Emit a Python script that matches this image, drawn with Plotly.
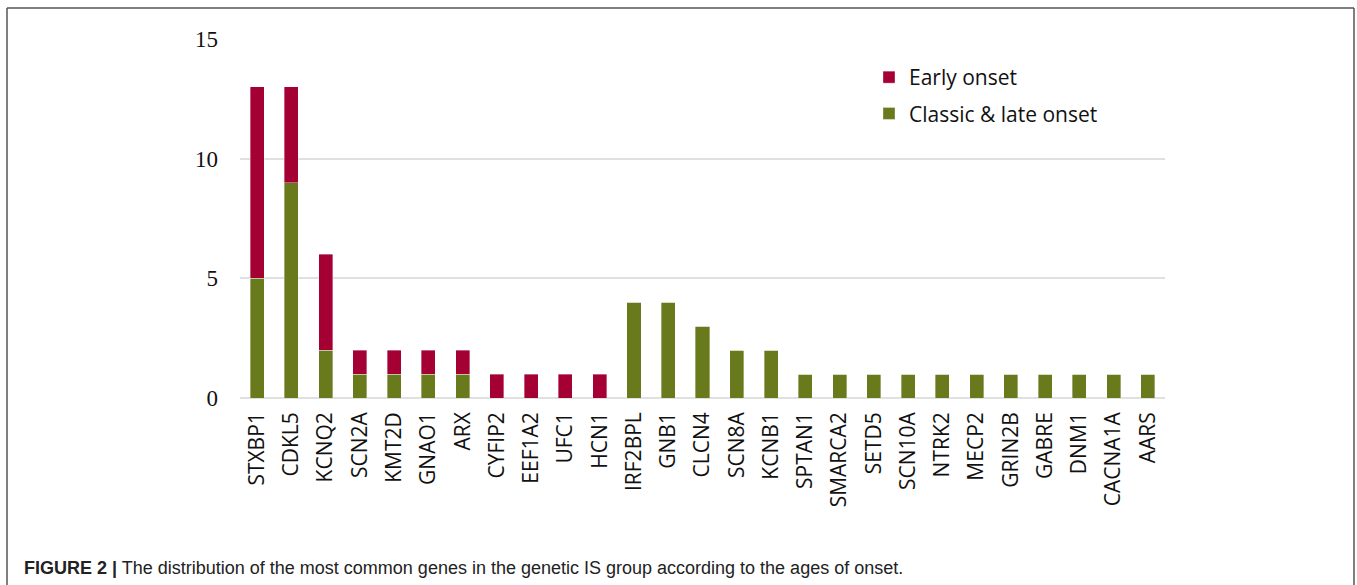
import plotly.graph_objects as go

genes = ["STXBP1", "CDKL5", "KCNQ2", "SCN2A", "KMT2D", "GNAO1", "ARX", "CYFIP2", "EEF1A2",
         "UFC1", "HCN1", "IRF2BPL", "GNB1", "CLCN4", "SCN8A", "KCNB1", "SPTAN1", "SMARCA2",
         "SETD5", "SCN10A", "NTRK2", "MECP2", "GRIN2B", "GABRE", "DNM1", "CACNA1A", "AARS"]
classic_late = [5, 9, 2, 1, 1, 1, 1, 0, 0, 0, 0, 4, 4, 3, 2, 2, 1, 1, 1, 1, 1, 1, 1, 1, 1, 1, 1]
early = [8, 4, 4, 1, 1, 1, 1, 1, 1, 1, 1, 0, 0, 0, 0, 0, 0, 0, 0, 0, 0, 0, 0, 0, 0, 0, 0]
y_ticks = [0, 5, 10, 15]

RED = "#A50034"
GREEN = "#687A1C"

fig = go.Figure()
fig.add_trace(go.Bar(x=genes, y=classic_late, name="Classic & late onset", marker_color=GREEN,
                     marker_line=dict(color="rgba(255,255,255,0.6)", width=0.6),
                     legendgroup="b", legendrank=2))
fig.add_trace(go.Bar(x=genes, y=early, name="Early onset", marker_color=RED,
                     marker_line=dict(color="rgba(255,255,255,0.6)", width=0.6),
                     legendgroup="a", legendrank=1))

W, H = 1357, 585
L, R, T, B = 240, 1165, 39, 398

def px2paper_x(px):
    return (px - L) / (R - L)

def px2paper_y(py):
    return (B - py) / (B - T)

fig.update_layout(
    width=W, height=H,
    margin=dict(l=L, r=W - R, t=T, b=H - B, pad=0),
    paper_bgcolor="white", plot_bgcolor="white",
    barmode="stack", bargap=0.59,
    showlegend=True,
    legend=dict(x=px2paper_x(869), y=px2paper_y(57), xanchor="left", yanchor="top",
                traceorder="grouped", tracegroupgap=6,
                font=dict(family="Open Sans", size=21, color="#111111"),
                bgcolor="rgba(0,0,0,0)"),
    xaxis=dict(type="category", range=[-0.5, 26.5], tickangle=-90,
               tickfont=dict(family="Open Sans", size=21, color="#111111"),
               showgrid=False, showline=False, ticks="", ticklabelstandoff=9),
    yaxis=dict(range=[0, 15], tickvals=y_ticks, ticktext=[str(v) for v in y_ticks],
               tickfont=dict(family="Liberation Serif", size=23, color="#111111"),
               showgrid=True, gridcolor="#E0E0E0", gridwidth=2,
               zeroline=True, zerolinecolor="#E0E0E0", zerolinewidth=2,
               showline=False, ticks="", ticklabelstandoff=21),
    shapes=[
        dict(type="line", xref="paper", yref="paper",
             x0=px2paper_x(7), x1=px2paper_x(1354), y0=px2paper_y(8), y1=px2paper_y(8),
             line=dict(color="#555555", width=1.5)),
        dict(type="line", xref="paper", yref="paper",
             x0=px2paper_x(7), x1=px2paper_x(7), y0=px2paper_y(8), y1=px2paper_y(590),
             line=dict(color="#555555", width=1.5)),
        dict(type="line", xref="paper", yref="paper",
             x0=px2paper_x(1354), x1=px2paper_x(1354), y0=px2paper_y(8), y1=px2paper_y(590),
             line=dict(color="#555555", width=1.5)),
    ],
    annotations=[
        dict(text="<b>FIGURE 2 |</b> The distribution of the most common genes in the genetic IS group according to the ages of onset.",
             xref="paper", yref="paper", x=px2paper_x(22), y=px2paper_y(568),
             xanchor="left", yanchor="middle", showarrow=False,
             font=dict(family="Liberation Sans", size=18, color="#222222")),
    ],
)

fig.write_html("out.html", config={"displayModeBar": False},
               post_script="document.body.style.margin='0px';document.body.style.overflow='hidden';")
